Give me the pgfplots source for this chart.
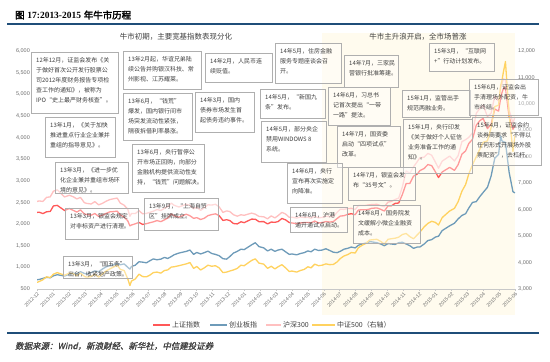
\documentclass[border=0pt]{standalone}
\usepackage{pgfplots}
\pgfplotsset{compat=1.18}
\usepackage{pgfplotstable}
\usepackage{fontspec}
\setmainfont{Liberation Sans}
\newfontfamily\cjk{Noto Sans CJK SC}
\newfontfamily\cjkbf[FakeBold=2.5]{Noto Sans CJK SC}
\newfontfamily\cjkit[FakeSlant=0.22,FakeBold=1.2]{Noto Sans CJK SC}
\newfontfamily\serifbf{Liberation Serif}

\definecolor{cred}{RGB}{255,88,88}
\definecolor{cblue}{RGB}{110,155,185}
\definecolor{cpink}{RGB}{255,192,192}
\definecolor{cyel}{RGB}{255,210,95}
\definecolor{cshade}{RGB}{255,251,238}
\definecolor{cframe}{RGB}{175,175,175}
\definecolor{ctext}{RGB}{64,64,64}
\definecolor{ctick}{RGB}{110,110,110}
\definecolor{cgrid}{RGB}{200,200,200}
\definecolor{cnavy}{RGB}{31,78,121}

\pgfplotstableread{
m sh cy hs zz
0.00 2269 714 2523 3250
0.13 2276 720 2535 3280
0.37 2243 745 2524 3350
0.60 2285 770 2617 3460
0.83 2292 760 2629 3430
1.03 2419 805 2761 3560
1.27 2433 830 2792 3620
1.73 2314 800 2627 3520
2.03 2359 840 2666 3600
2.27 2318 865 2633 3580
2.50 2278 850 2582 3500
2.73 2328 900 2617 3600
2.97 2237 860 2495 3480
3.10 2225 850 2480 3450
3.40 2206 880 2464 3470
3.63 2244 920 2520 3560
3.87 2178 900 2444 3450
4.10 2205 960 2478 3560
4.33 2246 1010 2527 3680
4.57 2283 1045 2566 3760
4.80 2288 1060 2585 3830
5.03 2300 1090 2602 3900
5.23 2210 1060 2485 3740
5.47 2162 1080 2436 3700
5.70 2073 1000 2343 3380
5.83 1959 960 2180 3130
5.93 1979 1020 2246 3300
6.17 2007 1050 2243 3380
6.40 2039 1130 2311 3560
6.63 1992 1120 2237 3470
6.87 2010 1105 2248 3460
7.07 2030 1150 2269 3520
7.30 2052 1195 2298 3620
7.53 2081 1175 2336 3640
7.77 2057 1190 2313 3600
8.00 2098 1230 2365 3700
8.20 2139 1205 2404 3720
8.43 2236 1250 2484 3830
8.60 2191 1290 2436 3840
8.90 2160 1330 2395 3880
9.37 2228 1370 2458 3950
9.60 2193 1400 2432 4000
9.83 2133 1300 2354 3780
10.03 2149 1345 2391 3850
10.27 2106 1310 2318 3720
10.50 2135 1340 2376 3800
10.73 2196 1375 2446 3900
10.97 2220 1320 2440 3860
11.20 2237 1300 2458 3880
11.43 2196 1270 2400 3800
11.67 2085 1200 2270 3620
11.90 2101 1190 2305 3640
12.10 2083 1250 2290 3680
12.33 2013 1330 2217 3720
12.57 2004 1370 2183 3780
12.80 2054 1420 2216 3900
13.00 2033 1410 2203 3880
13.47 2115 1520 2254 4080
13.70 2113 1570 2229 4140
13.93 2056 1480 2178 3980
14.23 2057 1450 2168 3940
14.47 2004 1380 2122 3780
14.70 2047 1420 2189 3860
14.93 2041 1370 2143 3760
15.13 2058 1400 2196 3840
15.37 2130 1420 2271 3920
15.60 2098 1360 2233 3800
15.83 2036 1300 2157 3660
16.00 2026 1310 2159 3680
16.30 2011 1290 2140 3640
16.53 2026 1320 2164 3700
16.77 2035 1340 2153 3740
17.00 2039 1380 2158 3840
17.20 2030 1360 2137 3800
17.43 2070 1420 2178 3940
17.67 2026 1390 2144 3880
17.90 2036 1400 2155 3900
18.13 2059 1430 2183 3950
18.37 2047 1390 2168 3920
18.60 2059 1350 2180 3930
18.83 2127 1340 2267 4020
19.03 2185 1370 2343 4150
19.27 2194 1420 2340 4250
19.50 2226 1440 2360 4300
19.73 2240 1470 2364 4380
19.97 2217 1450 2338 4360
20.17 2326 1510 2427 4560
20.40 2331 1540 2428 4650
20.63 2329 1560 2432 4720
20.87 2347 1590 2447 4850
21.00 2364 1590 2450 4860
21.33 2374 1570 2457 4880
21.57 2341 1540 2425 4800
21.80 2302 1500 2402 4700
22.03 2420 1550 2508 4880
22.23 2418 1540 2522 4900
22.47 2478 1530 2568 4920
22.70 2487 1570 2601 4960
22.93 2683 1580 2858 5060
23.17 2938 1540 3229 5100
23.40 2938 1500 3174 4980
23.63 3108 1440 3321 4900
23.87 3158 1470 3445 5050
24.03 3235 1470 3533 5150
24.30 3285 1540 3547 5350
24.53 3376 1620 3635 5480
24.77 3351 1640 3592 5560
25.00 3210 1700 3434 5520
25.20 3076 1720 3292 5420
25.43 3204 1850 3455 5700
25.90 3311 1960 3572 5950
26.20 3241 2020 3458 6050
26.43 3373 2120 3580 6300
26.67 3617 2200 3907 6700
26.90 3691 2240 3950 6950
27.10 3864 2370 4004 7350
27.33 3957 2500 4106 7700
27.57 4287 2520 4560 8000
27.80 4393 2640 4678 8300
28.00 4442 2730 4750 8550
28.27 4206 2850 4486 8600
28.50 4308 3110 4564 9100
28.73 4658 3520 4954 9900
28.97 4611 3610 4840 9950
29.10 4910 4037 5150 10700
29.17 5023 3930 5231 10850
29.27 5131 3900 5354 11200
29.40 5166 3890 5335 11600
29.63 4478 3200 4637 9600
29.87 4192 2750 4336 8200
30.00 4277 2720 4473 8800
}\datatab

\newcommand{\abox}[5]{%
  \draw[draw=cframe, line width=0.6bp, fill=white, fill opacity=0.4] (#1,#2) rectangle (#3,#4);
  \node[anchor=north west, inner sep=0pt, align=left, text=ctext,
        font=\cjk\fontsize{6}{10}\selectfont] at (#1+5,#2+5.5) {#5};
}

\begin{document}
\begin{tikzpicture}
\useasboundingbox (0,0) rectangle (550bp,362bp);
\fill[white] (0,0) rectangle (550bp,362bp);
\begin{scope}[x=1bp,y=-1bp,yshift=362bp]
  \fill[cshade] (322,33) rectangle (515,315);
\end{scope}

\begin{axis}[
  at={(37bp,73bp)}, anchor=south west,
  width=478bp, height=238bp, scale only axis,
  xmin=0, xmax=30, ymin=500, ymax=6000,
  scaled y ticks=false, scaled x ticks=false,
  axis x line*=bottom, axis y line*=left,
  axis line style={-},
  y axis line style={draw=none},
  x axis line style={draw=cgrid, line width=0.6bp},
  xtick={0,...,30},
  xticklabels={2012-12,2013-01,2013-02,2013-03,2013-04,2013-05,2013-06,2013-07,2013-08,2013-09,2013-10,2013-11,2013-12,2014-01,2014-02,2014-03,2014-04,2014-05,2014-06,2014-07,2014-08,2014-09,2014-10,2014-11,2014-12,2015-01,2015-02,2015-03,2015-04,2015-05,2015-06},
  x tick label style={rotate=45, anchor=north east, font=\fontsize{5}{6}\selectfont, text=ctick, inner sep=0.8pt},
  x tick style={draw=cgrid, line width=0.5bp},
  tick align=outside, major tick length=2bp,
  ytick={500,1000,...,6000},
  yticklabels={500,{1,000},{1,500},{2,000},{2,500},{3,000},{3,500},{4,000},{4,500},{5,000},{5,500},{6,000}},
  y tick style={draw=none},
  y tick label style={font=\fontsize{5.5}{6}\selectfont, text=ctick, inner sep=0pt, xshift=-5bp},
]
\addplot[cred, line width=1.3bp, line join=round] table[x=m,y=sh]{\datatab};
\addplot[cblue, line width=1.3bp, line join=round] table[x=m,y=cy]{\datatab};
\addplot[cpink, line width=1.3bp, line join=round] table[x=m,y=hs]{\datatab};
\end{axis}

\begin{axis}[
  at={(37bp,73bp)}, anchor=south west,
  width=478bp, height=238bp, scale only axis,
  xmin=0, xmax=30, ymin=3000, ymax=12000,
  scaled y ticks=false, scaled x ticks=false,
  axis x line=none, axis y line*=right,
  axis line style={-},
  y axis line style={draw=none},
  ytick={3000,4000,...,12000},
  yticklabels={{3,000},{4,000},{5,000},{6,000},{7,000},{8,000},{9,000},{10,000},{11,000},{12,000}},
  y tick style={draw=none},
  y tick label style={font=\fontsize{5.5}{6}\selectfont, text=ctick, inner sep=0pt, xshift=3bp},
]
\addplot[cyel, line width=1.3bp, line join=round] table[x=m,y=zz]{\datatab};
\end{axis}

\begin{scope}[x=1bp,y=-1bp,yshift=362bp]
  % title and rules
  \node[anchor=west, inner sep=0pt] at (15,15) {{\cjkbf\fontsize{9.5}{11}\selectfont 图} {\serifbf\bfseries\fontsize{9.5}{11}\selectfont 17:2013-2015} {\cjkbf\fontsize{9.5}{11}\selectfont 年牛市历程}};
  \draw[cnavy, line width=1.6bp] (7,24) -- (539,24);
  \draw[cnavy, line width=1.6bp] (7,333) -- (539,333);
  \node[anchor=west, inner sep=0pt, text=ctext, font=\cjkit\fontsize{8.5}{10}\selectfont] at (15,346) {数据来源：Wind，新浪财经、新华社，中信建投证券};
  % phase labels
  \node[inner sep=0pt, text=ctext, font=\cjk\fontsize{7.5}{9}\selectfont] at (176,37) {牛市初期，主要宽基指数表现分化};
  \node[inner sep=0pt, text=ctext, font=\cjk\fontsize{7.5}{9}\selectfont] at (418,37) {牛市主升浪开启，全市场普涨};
  % annotation boxes
  \abox{31}{52}{118}{113}{12年12月，证监会发布《关\\于做好首次公开发行股票公\\司2012年度财务报告专项检\\查工作的通知》，被称为\\IPO“史上最严财务核查”。}
  \abox{123}{51}{201}{89}{13年2月起，华谊兄弟陆\\续公告并购银汉科技、常\\州影视、江苏耀莱。}
  \abox{45}{117}{115}{157}{13年1月，《关于加快\\推进重点行业企业兼并\\重组的指导意见》。}
  \abox{123}{93}{192}{140}{13年6月，“钱荒”\\爆发，国内银行间市\\场突发流动性紧张，\\隔夜拆借利率暴涨。}
  \abox{132}{144}{204}{192}{13年6月，央行暂停公\\开市场正回购，向部分\\金融机构提供流动性支\\持，“钱荒”问题解决。}
  \abox{55}{162}{128}{193}{13年3月，《进一步优\\化企业兼并重组市场环\\境的意见》。}
  \abox{65}{208}{138}{239}{13年3月，银监会规定\\对非标资产进行清理。}
  \abox{63}{256}{132}{278}{13年3月，“国五条”\\出台，收紧地产政策。}
  \abox{144}{198}{218}{230}{13年9月，“上海自贸\\区”挂牌成立。}
  \abox{205}{53}{272}{82}{14年2月，人民币连\\续贬值。}
  \abox{195}{92}{254}{132}{14年3月，国内\\债券市场发生首\\起债务违约事件。}
  \abox{275}{43}{341}{83}{14年5月，住房金融\\服务专题座谈会召\\开。}
  \abox{344}{55}{398}{87}{14年7月，三家民\\营银行批准筹建。}
  \abox{429}{43}{494}{71}{15年3月，“互联网\\+”行动计划发布。}
  \abox{260}{89}{325}{118}{14年5月，“新国九\\条”发布。}
  \abox{328}{87}{390}{125}{14年6月，习总书\\记首次提出“一带\\一路”提法。}
  \abox{261}{121}{326}{162}{14年5月，部分央企\\禁用WINDOWS 8\\系统。}
  \abox{337}{126}{400}{167}{14年7月，国资委\\启动“四项试点”\\改革。}
  \abox{402}{90}{470}{117}{15年1月，监管出手\\规范两融业务。}
  \abox{403}{119}{472}{173}{15年1月，央行印发\\《关于做好个人征信\\业务准备工作的通\\知》。}
  \abox{469}{79}{538}{115}{15年6月，证监会出\\手清理场外配资，牛\\市终结。}
  \abox{472}{117}{541}{165}{15年4月，证监会约\\谈券商要求“不得以\\任何形式开展场外股\\票配资”，去杠杆。}
  \abox{287}{163}{342}{203}{14年6月，央行\\宣布再次实施定\\向降准。}
  \abox{348}{167}{415}{200}{14年7月，银监会发\\布“35号文”。}
  \abox{290}{207}{347}{232}{14年6月，沪港\\通开通试点启动。}
  \abox{353}{205}{420}{243}{14年8月，国务院发\\文缓解小微企业融资\\成本。}
  % legend
  \draw[cred, line width=2bp] (153,325) -- (170,325);
  \node[anchor=west, inner sep=0pt, text=ctext, font=\cjk\fontsize{7}{8}\selectfont] at (172,325) {上证指数};
  \draw[cblue, line width=2bp] (210,325) -- (227,325);
  \node[anchor=west, inner sep=0pt, text=ctext, font=\cjk\fontsize{7}{8}\selectfont] at (229,325) {创业板指};
  \draw[cpink, line width=2bp] (266,325) -- (281,325);
  \node[anchor=west, inner sep=0pt, text=ctext, font=\cjk\fontsize{7}{8}\selectfont] at (283,325) {沪深300};
  \draw[cyel, line width=2bp] (312,325) -- (335,325);
  \node[anchor=west, inner sep=0pt, text=ctext, font=\cjk\fontsize{7}{8}\selectfont] at (337,325) {中证500（右轴）};
\end{scope}
\end{tikzpicture}
\end{document}
